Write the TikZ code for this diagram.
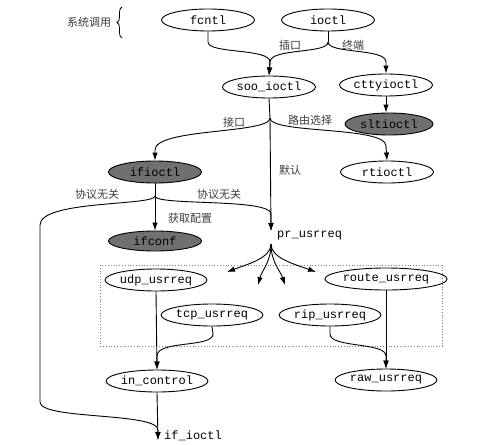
\documentclass[tikz,border=0pt]{standalone}
\usepackage{fontspec}
\setmonofont{Liberation Mono}
\newfontfamily\cjk{Noto Sans CJK SC}
\usetikzlibrary{shapes.geometric,arrows.meta,decorations.pathreplacing}
\definecolor{darkfill}{RGB}{112,112,112}
\definecolor{lblgray}{RGB}{60,60,60}
\tikzset{
  fn/.style={ellipse,draw,line width=0.9pt,minimum width=93pt,minimum height=22pt,inner sep=0pt,
    font=\ttfamily\fontsize{12}{14}\selectfont},
  fndark/.style={fn,fill=darkfill},
  plain/.style={inner sep=0pt,font=\ttfamily\fontsize{12}{14}\selectfont},
  lbl/.style={inner sep=0pt,text=lblgray,font=\cjk\fontsize{11}{13}\selectfont},
  conn/.style={line width=0.9pt},
  arr/.style={conn,-{Latex[length=8pt,width=5.5pt]}},
}
\begin{document}
\begin{tikzpicture}[x=1pt,y=-1pt]
\useasboundingbox (0,0) rectangle (500,444);
% brace and title
\node[lbl] (sys) at (89,22) {系统调用};
\draw[line width=0.8pt,decorate,decoration={brace,amplitude=5pt}] (122,38) -- (122,7);
% nodes
\node[fn] (fcntl) at (208,20) {fcntl};
\node[fn] (ioctl) at (328,20) {ioctl};
\node[fn] (soo) at (269,87) {soo\_ioctl};
\node[fn] (ctty) at (386,85) {cttyioctl};
\node[fndark,minimum width=88pt] (slt) at (389,124) {sltioctl};
\node[fndark] (ifi) at (155,172) {ifioctl};
\node[fn] (rti) at (387,172) {rtioctl};
\node[fndark,minimum height=20pt] (ifc) at (155,241) {ifconf};
\node[plain,anchor=west] (pr) at (277,236) {pr\_usrreq};
\coordinate (prin) at (271,231);
\coordinate (pro) at (271,244);
\node[fn] (udp) at (156,280) {udp\_usrreq};
\node[fn,minimum width=95pt] (route) at (386,279) {route\_usrreq};
\node[fn] (tcp) at (212,315) {tcp\_usrreq};
\node[fn] (rip) at (330,315) {rip\_usrreq};
\node[fn] (inc) at (157,381) {in\_control};
\node[fn] (raw) at (386,380) {raw\_usrreq};
\node[plain,anchor=west] (ifx) at (164,436) {if\_ioctl};
\coordinate (ifxin) at (158,440);
% fan targets
\coordinate (f1) at (227,272);
\coordinate (f2) at (258,285);
\coordinate (f3) at (285,285);
\coordinate (f4) at (316,272);
% dotted box
\draw[dotted,line width=0.8pt,gray] (100,265) rectangle (442,346);
% junctions
\coordinate (j1) at (328,42);
\coordinate (j2) at (270,118);
\coordinate (j3) at (155,196);
% labels
\node[lbl] (l1) at (290,45) {插口};
\node[lbl] (l2) at (353,45) {终端};
\node[lbl] (l3) at (234,122) {接口};
\node[lbl] (l4) at (310,120) {路由选择};
\node[lbl] (l5) at (290,170) {默认};
\node[lbl] (l6) at (97,194) {协议无关};
\node[lbl] (l7) at (219,194) {协议无关};
\node[lbl] (l8) at (190,218) {获取配置};
% connectors
\draw[arr] (fcntl.south) -- (208,42) .. controls (208,54) and (270,48) .. (270,62) -- (soo.north);
\draw[conn] (ioctl.south) -- (j1);
\draw[arr] (j1) .. controls (328,54) and (270,48) .. (270,62) -- (soo.north);
\draw[arr] (j1) .. controls (328,54) and (386,48) .. (386,62) -- (ctty.north);
\draw[arr] (ctty.south) -- (slt.north -| ctty.south);
\draw[conn] (soo.south) -- (j2);
\draw[arr] (j2) -- (prin);
\draw[arr] (j2) .. controls (270,134) and (155,128) .. (155,150) -- (ifi.north);
\draw[arr] (j2) .. controls (270,134) and (386,126) .. (386,146) -- (rti.north);
\draw[conn] (ifi.south) -- (j3);
\draw[arr] (j3) -- (ifc.north);
\draw[arr] (j3) .. controls (155,206) and (271,198) .. (271,214) -- (prin);
\draw[arr] (j3) .. controls (155,206) and (40,200) .. (40,225) -- (40,402) .. controls (40,420) and (158,412) .. (158,430) -- (ifxin);
\draw[arr] (pro) .. controls (271,258) and (248,264) .. (f1);
\draw[arr] (pro) .. controls (271,262) and (262,270) .. (f2);
\draw[arr] (pro) .. controls (271,262) and (280,270) .. (f3);
\draw[arr] (pro) .. controls (271,258) and (294,264) .. (f4);
\draw[arr] (udp.south) -- (inc.north);
\draw[arr] (tcp.south) -- (213,334) .. controls (213,348) and (157,340) .. (157,356) -- (inc.north);
\draw[arr] (route.south) -- (raw.north);
\draw[arr] (rip.south) -- (330,334) .. controls (330,348) and (386,342) .. (386,356) -- (raw.north);
\draw[arr] (inc.south) -- (ifxin);
\end{tikzpicture}
\end{document}
